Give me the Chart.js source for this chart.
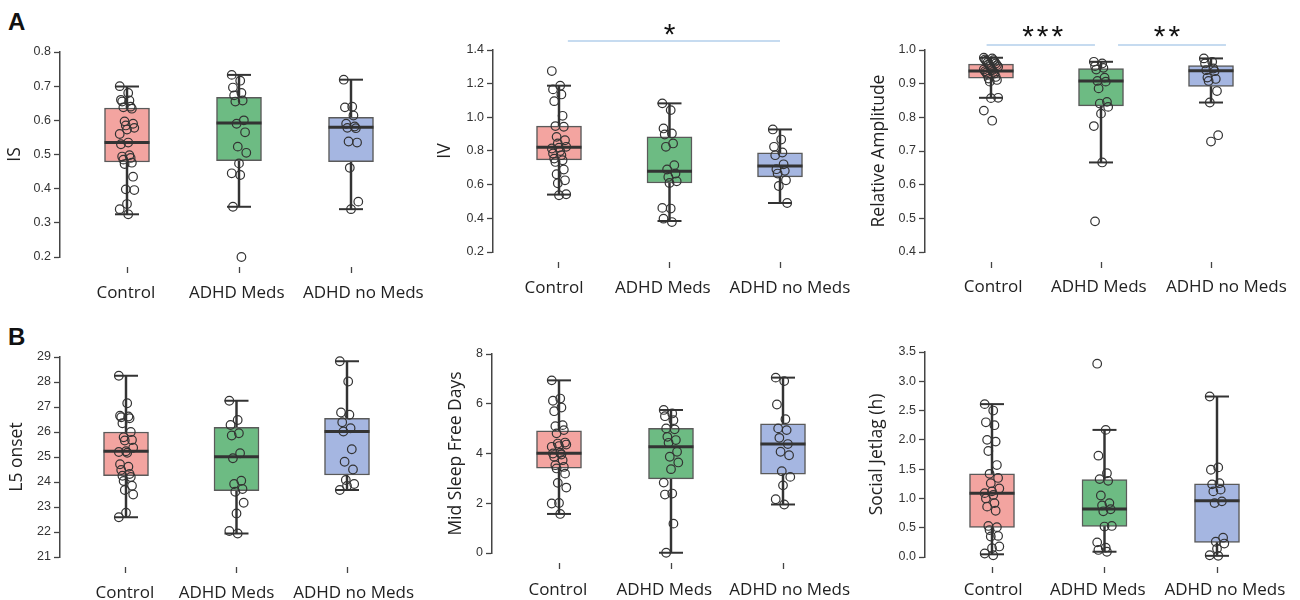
<!DOCTYPE html>
<html><head><meta charset="utf-8">
<script src="https://cdn.jsdelivr.net/npm/chart.js@4.4.1/dist/chart.umd.min.js"></script>
<style>
html,body{margin:0;padding:0;background:#fff;width:1300px;height:600px;overflow:hidden;position:relative}
.panel{position:absolute}
.letter{position:absolute;font:bold 24px 'Liberation Sans',Arial,sans-serif;line-height:24px;color:#111}
</style></head><body>
<div class="letter" style="left:8px;top:10px">A</div>
<div class="letter" style="left:8px;top:325px">B</div>
<script>
const categories = ['Control', 'ADHD Meds', 'ADHD no Meds'];

// IS
const isControl = [0.70,0.68,0.66,0.658,0.655,0.64,0.638,0.634,0.597,0.59,0.585,0.578,0.573,0.56,0.535,0.53,0.498,0.494,0.49,0.485,0.476,0.472,0.435,0.398,0.396,0.355,0.34,0.325];
const isMeds = [0.733,0.716,0.696,0.68,0.673,0.658,0.655,0.60,0.59,0.565,0.523,0.505,0.474,0.445,0.44,0.347,0.20];
const isNoMeds = [0.719,0.64,0.638,0.614,0.59,0.582,0.578,0.577,0.538,0.535,0.461,0.362,0.34];
const isLo = [0.325,0.347,0.34], isQ1 = [0.478,0.482,0.479], isMed = [0.535,0.592,0.58], isQ3 = [0.636,0.667,0.609], isHi = [0.699,0.733,0.719];
const isTicks = [0.2, 0.8, 0.1];

// IV
const ivControl = [1.275,1.188,1.166,1.136,1.096,1.009,0.948,0.944,0.884,0.864,0.845,0.825,0.82,0.815,0.80,0.785,0.775,0.755,0.745,0.735,0.69,0.662,0.626,0.608,0.543,0.537];
const ivMeds = [1.083,1.043,0.934,0.904,0.898,0.845,0.825,0.716,0.69,0.666,0.646,0.62,0.61,0.462,0.458,0.398,0.378];
const ivNoMeds = [0.928,0.868,0.825,0.791,0.775,0.721,0.692,0.682,0.666,0.626,0.592,0.491];
const ivLo = [0.541,0.384,0.491], ivQ1 = [0.747,0.61,0.646], ivMed = [0.823,0.68,0.711], ivQ3 = [0.948,0.884,0.789], ivHi = [1.188,1.083,0.928];
const ivTicks = [0.2, 1.4, 0.2];

// Relative Amplitude
const raControl = [0.977,0.975,0.972,0.97,0.968,0.965,0.962,0.96,0.958,0.955,0.953,0.95,0.945,0.942,0.94,0.937,0.935,0.933,0.93,0.926,0.92,0.915,0.911,0.906,0.858,0.857,0.82,0.79];
const raMeds = [0.965,0.96,0.952,0.947,0.942,0.918,0.908,0.906,0.886,0.846,0.841,0.831,0.811,0.774,0.666,0.491];
const raNoMeds = [0.975,0.965,0.96,0.945,0.94,0.937,0.918,0.914,0.908,0.878,0.844,0.747,0.728];
const raLo = [0.858,0.666,0.844], raQ1 = [0.916,0.834,0.892], raMed = [0.9375,0.908,0.938], raQ3 = [0.958,0.945,0.954], raHi = [0.977,0.965,0.975];
const raTicks = [0.4, 1.0, 0.1];

// L5 onset
const l5Control = [28.25,27.15,26.65,26.62,26.59,26.55,26.35,26.0,25.79,25.68,25.66,25.37,25.23,25.2,25.17,24.71,24.61,24.48,24.32,24.25,24.2,24.04,23.85,23.68,23.5,22.77,22.59];
const l5Meds = [27.25,26.48,26.28,25.95,25.86,25.15,24.95,24.05,23.92,23.72,23.61,23.17,22.74,22.04,21.94];
const l5NoMeds = [28.83,28.02,26.78,26.69,26.39,26.15,26.02,25.31,24.81,24.5,24.08,23.92,23.84,23.68];
const l5Lo = [22.59,21.94,23.68], l5Q1 = [24.25,23.65,24.28], l5Med = [25.23,25.01,26.02], l5Q3 = [26.0,26.19,26.55], l5Hi = [28.25,27.25,28.83];
const l5Ticks = [21, 29, 1];

// Mid Sleep Free Days
const msfControl = [6.94,6.21,6.12,5.85,5.7,5.14,5.10,4.94,4.81,4.44,4.40,4.36,4.3,4.27,4.03,4.0,3.96,3.87,3.73,3.53,3.46,3.40,3.19,2.82,2.63,2.01,1.99,1.57];
const msfMeds = [5.75,5.61,5.5,5.34,5.01,4.97,4.67,4.54,4.43,4.07,3.87,3.64,3.37,2.83,2.39,2.35,1.18,0.01];
const msfNoMeds = [7.05,6.91,5.97,5.38,5.01,4.94,4.63,4.38,4.07,3.93,3.29,3.06,2.72,2.16,1.95];
const msfLo = [1.57,0.01,1.95], msfQ1 = [3.41,2.98,3.17], msfMed = [4.01,4.27,4.38], msfQ3 = [4.91,5.01,5.19], msfHi = [6.94,5.75,7.05];
const msfTicks = [0, 8, 2];

// Social Jetlag
const sjlControl = [2.61,2.50,2.30,2.25,2.0,1.97,1.81,1.57,1.42,1.35,1.26,1.17,1.12,1.09,1.06,1.0,0.92,0.86,0.79,0.53,0.51,0.46,0.36,0.35,0.18,0.15,0.06,0.03];
const sjlMeds = [3.30,2.17,1.73,1.43,1.33,1.30,1.05,0.92,0.88,0.815,0.78,0.53,0.52,0.25,0.16,0.12,0.09];
const sjlNoMeds = [2.74,1.53,1.49,1.26,1.24,1.15,1.12,0.95,0.92,0.33,0.26,0.23,0.14,0.03,0.02];
const sjlLo = [0.046,0.09,0.02], sjlQ1 = [0.507,0.52,0.25], sjlMed = [1.09,0.82,0.96], sjlQ3 = [1.42,1.32,1.25], sjlHi = [2.61,2.17,2.74];
const sjlTicks = [0, 3.5, 0.5];

const fills = ['#F3A4A0', '#6DBB83', '#A5B6E1'];
const jit = k => (((k * 7) % 13) - 6) / 6 * 0.065;

function makePanel(p) {
  const div = document.createElement('div');
  div.className = 'panel';
  div.style.left = p.left + 'px'; div.style.top = p.top + 'px';
  div.style.width = p.w + 'px'; div.style.height = p.h + 'px';
  const cv = document.createElement('canvas');
  cv.width = p.w; cv.height = p.h;
  div.appendChild(cv); document.body.appendChild(div);
  const xmin = -(p.c0 - 60) / p.step;
  const xmax = (p.w - 5 - p.c0) / p.step;
  const idx = [0, 1, 2];
  const datasets = [
    {type: 'bar', data: idx.map(i => ({x: i, y: [p.lo[i], p.hi[i]]})), backgroundColor: '#333', barThickness: 1.8, grouped: false, order: 4},
    {type: 'bar', data: idx.map(i => ({x: i, y: [p.q1[i], p.q3[i]]})), backgroundColor: fills, borderColor: '#5a5a5a', borderWidth: 1.5, borderSkipped: false, barThickness: 45, grouped: false, order: 3},
    {type: 'scatter', data: idx.map(i => ({x: i, y: p.lo[i]})).concat(idx.map(i => ({x: i, y: p.hi[i]}))), pointStyle: 'line', radius: 12, borderColor: '#333', borderWidth: 2, order: 2},
    {type: 'scatter', data: idx.map(i => ({x: i, y: p.med[i]})), pointStyle: 'line', radius: 22.5, borderColor: '#333', borderWidth: 3, order: 1}
  ];
  p.groups.forEach((vals, i) => {
    datasets.push({type: 'scatter', data: vals.map((v, k) => ({x: i + jit(k), y: v})), pointStyle: 'circle', radius: 4.3, borderWidth: 1.2, borderColor: '#333', backgroundColor: 'rgba(0,0,0,0)', order: 0});
  });
  const sigPlugin = {
    id: 'sig',
    afterDraw(chart) {
      const ctx = chart.ctx, xs = chart.scales.x, top = chart.chartArea.top;
      ctx.save();
      (p.sigLines || []).forEach(s => {
        ctx.strokeStyle = '#8DB8E2'; ctx.lineWidth = 1.2;
        ctx.beginPath();
        ctx.moveTo(xs.getPixelForValue(s[0]), top + s[2]);
        ctx.lineTo(xs.getPixelForValue(s[1]), top + s[2]);
        ctx.stroke();
      });
      (p.stars || []).forEach(s => {
        ctx.fillStyle = '#111';
        ctx.font = '30px "Liberation Sans", Arial, sans-serif';
        ctx.letterSpacing = '3px';
        ctx.textAlign = 'center'; ctx.textBaseline = 'alphabetic';
        ctx.fillText(s[1], xs.getPixelForValue(s[0]) + 1.5, top + s[2] + 17);
      });
      ctx.restore();
    }
  };
  new Chart(cv, {
    type: 'bar',
    data: {datasets},
    plugins: [sigPlugin],
    options: {
      responsive: false, animation: false, events: [],
      layout: {autoPadding: false, padding: {top: p.plotTop, left: 0, right: 5, bottom: 0}},
      plugins: {legend: {display: false}, tooltip: {enabled: false}},
      datasets: {scatter: {clip: false}, bar: {clip: false}},
      scales: {
        x: {
          type: 'linear', min: xmin, max: xmax, offset: false, weight: 0, position: 'bottom',
          afterBuildTicks: s => { s.ticks = idx.map(v => ({value: v})); },
          afterFit: s => { s.height = 16; s.paddingLeft = 0; s.paddingRight = 0; },
          ticks: {display: false},
          grid: {display: true, offset: false, drawOnChartArea: false, drawTicks: true, tickLength: 16, tickColor: '#444', tickWidth: 1.3, tickBorderDash: [0, 10, 6, 60]},
          border: {display: false}
        },
        xl: {
          type: 'linear', min: xmin, max: xmax, offset: false, weight: 1, position: 'bottom',
          afterBuildTicks: s => { s.ticks = p.labelPos.map(v => ({value: v})); },
          afterFit: s => { s.height = 34; s.paddingLeft = 0; s.paddingRight = 0; },
          ticks: {callback: (v, i) => categories[i], font: {family: 'Open Sans', size: 17}, color: '#222', padding: p.lblGap - 26, maxRotation: 0, autoSkip: false},
          grid: {display: false, drawTicks: false},
          border: {display: false}
        },
        y: {
          type: 'linear', min: p.ticks[0], max: p.ticks[1],
          afterFit: s => { s.width = 60; s.paddingTop = 0; s.paddingBottom = 0; },
          ticks: {stepSize: p.ticks[2], callback: v => Number(v).toFixed(p.dec), font: {family: 'Liberation Sans', size: 12.5}, color: '#333', padding: 3},
          grid: {drawOnChartArea: false, drawTicks: true, tickLength: 6, tickColor: '#444', tickWidth: 1.3},
          border: {display: true, color: '#444', width: 1.5},
          title: {display: true, text: p.title, font: {family: 'Open Sans', size: 17.5}, color: '#222', padding: {top: p.titleCenter - 10.5, bottom: 0}}
        }
      }
    }
  });
}

makePanel({left: 0, top: 0, w: 430, h: 307, plotTop: 52, c0: 127, step: 112, titleCenter: 15, title: 'IS', dec: 1, lblGap: 36,
  labelPos: [-0.01, 0.98, 2.11],
  ticks: isTicks, groups: [isControl, isMeds, isNoMeds], lo: isLo, q1: isQ1, med: isMed, q3: isQ3, hi: isHi});
makePanel({left: 433, top: 0, w: 430, h: 302, plotTop: 50, c0: 126, step: 110.5, titleCenter: 12, title: 'IV', dec: 1, lblGap: 36,
  labelPos: [-0.045, 0.94, 2.09],
  ticks: ivTicks, groups: [ivControl, ivMeds, ivNoMeds], lo: ivLo, q1: ivQ1, med: ivMed, q3: ivQ3, hi: ivHi,
  sigLines: [[0.08, 2.0, -9]], stars: [[1.0, '*', -23]]});
makePanel({left: 865, top: 0, w: 435, h: 302, plotTop: 50, c0: 126, step: 110, titleCenter: 14, title: 'Relative Amplitude', dec: 1, lblGap: 35,
  labelPos: [0.02, 0.98, 2.14],
  ticks: raTicks, groups: [raControl, raMeds, raNoMeds], lo: raLo, q1: raQ1, med: raMed, q3: raQ3, hi: raHi,
  sigLines: [[-0.04, 0.945, -5], [1.155, 2.136, -5]], stars: [[0.47, '***', -21], [1.6, '**', -21]]});
makePanel({left: 0, top: 305, w: 430, h: 302, plotTop: 52, c0: 126, step: 110.5, titleCenter: 17, title: 'L5 onset', dec: 0, lblGap: 36,
  labelPos: [-0.01, 0.91, 2.06],
  ticks: l5Ticks, groups: [l5Control, l5Meds, l5NoMeds], lo: l5Lo, q1: l5Q1, med: l5Med, q3: l5Q3, hi: l5Hi});
makePanel({left: 432, top: 305, w: 430, h: 298, plotTop: 49, c0: 127, step: 112, titleCenter: 24, title: 'Mid Sleep Free Days', dec: 0, lblGap: 37,
  labelPos: [-0.01, 0.94, 2.06],
  ticks: msfTicks, groups: [msfControl, msfMeds, msfNoMeds], lo: msfLo, q1: msfQ1, med: msfMed, q3: msfQ3, hi: msfHi});
makePanel({left: 865, top: 305, w: 435, h: 302, plotTop: 47, c0: 127, step: 112.5, titleCenter: 12, title: 'Social Jetlag (h)', dec: 1, lblGap: 33,
  labelPos: [0.01, 0.94, 2.07],
  ticks: sjlTicks, groups: [sjlControl, sjlMeds, sjlNoMeds], lo: sjlLo, q1: sjlQ1, med: sjlMed, q3: sjlQ3, hi: sjlHi});
</script>
</body></html>
